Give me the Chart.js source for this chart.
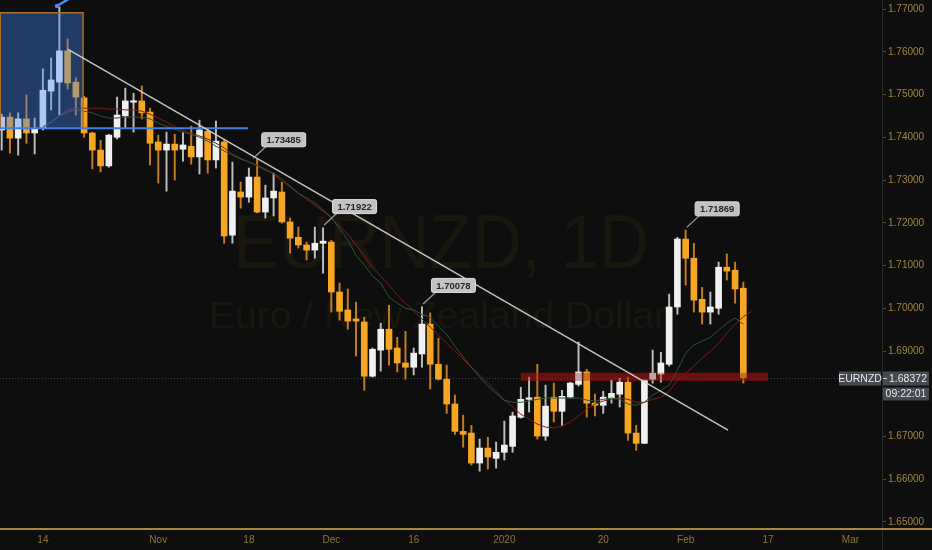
<!DOCTYPE html>
<html>
<head>
<meta charset="utf-8">
<script src="https://cdn.jsdelivr.net/npm/chart.js@4.4.1/dist/chart.umd.min.js"></script>
<style>
html,body{margin:0;padding:0;background:#0e0e0e;overflow:hidden}
#wrap{width:932px;height:550px;position:relative}
</style>
</head>
<body>
<div id="wrap"><canvas id="c" width="932" height="550"></canvas></div>
<script>
// ---- data (daily candles, index 0 = 7 Oct 2019) ----
const opens  = [1.7417,1.7447,1.7398,1.7443,1.7410,1.7421,1.7508,1.7529,1.7602,1.7529,
                1.7492,1.7410,1.7370,1.7333,1.7400,1.7450,1.7482,1.7485,1.7459,1.7389,
                1.7370,1.7384,1.7372,1.7379,1.7354,1.7414,1.7347,1.7389,1.7171,1.7272,
                1.7260,1.7307,1.7225,1.7258,1.7272,1.7202,1.7166,1.7148,1.7136,1.7152,
                1.7155,1.7038,1.6996,1.6975,1.6968,1.6841,1.6902,1.6951,1.6907,1.6872,
                1.6862,1.6893,1.6963,1.6869,1.6834,1.6776,1.6712,1.6708,1.6638,1.6673,
                1.6649,1.6663,1.6677,1.6745,1.6787,1.6792,1.6701,1.6792,1.6759,1.6792,
                1.6822,1.6851,1.6778,1.6773,1.6790,1.6799,1.6827,1.6708,1.6684,1.6834,
                1.6846,1.6869,1.7003,1.7162,1.7117,1.7021,1.6991,1.7000,1.7096,1.7089,
                1.7047];
const highs  = [1.7454,1.7457,1.7457,1.7499,1.7445,1.7560,1.7585,1.7705,1.7630,1.7539,
                1.7496,1.7412,1.7393,1.7407,1.7494,1.7515,1.7503,1.7520,1.7468,1.7405,
                1.7412,1.7407,1.7412,1.7426,1.7440,1.7419,1.7438,1.7393,1.7342,1.7295,
                1.7328,1.73485,1.7288,1.7316,1.7295,1.7211,1.7190,1.7155,1.7190,1.71922,
                1.7159,1.7059,1.7045,1.7014,1.6979,1.6907,1.6965,1.7007,1.6932,1.6946,
                1.6907,1.70078,1.6989,1.6930,1.6867,1.6797,1.6750,1.6726,1.6694,1.6698,
                1.6687,1.6736,1.6757,1.6815,1.6839,1.6869,1.6820,1.6825,1.6808,1.6827,
                1.6921,1.6857,1.6799,1.6806,1.6832,1.6836,1.6839,1.6726,1.6832,1.6902,
                1.6897,1.7033,1.7166,1.71869,1.7152,1.7049,1.7038,1.7108,1.7127,1.7108,
                1.7061];
const lows   = [1.7370,1.7363,1.7358,1.7386,1.7361,1.7417,1.7464,1.7452,1.7513,1.7452,
                1.7400,1.7326,1.7319,1.7330,1.7396,1.7421,1.7412,1.7443,1.7335,1.7293,
                1.7274,1.7300,1.7344,1.7337,1.7314,1.7316,1.7328,1.7152,1.7152,1.7234,
                1.7248,1.7223,1.7211,1.7216,1.7199,1.7129,1.7141,1.7113,1.7117,1.7082,
                1.6991,1.6972,1.6951,1.6888,1.6808,1.6839,1.6853,1.6867,1.6851,1.6834,
                1.6844,1.6862,1.6811,1.6832,1.6754,1.6705,1.6675,1.6633,1.6619,1.6624,
                1.6626,1.6645,1.6663,1.6743,1.6757,1.6694,1.6691,1.6734,1.6726,1.6790,
                1.6818,1.6745,1.6748,1.6754,1.6778,1.6769,1.6691,1.6668,1.6684,1.6825,
                1.6827,1.6865,1.6986,1.7054,1.6991,1.6963,1.6963,1.6986,1.7066,1.7012,
                1.6825];
const closes = [1.7447,1.7398,1.7443,1.7410,1.7421,1.7510,1.7534,1.7602,1.7527,1.7494,
                1.7410,1.7370,1.7333,1.7405,1.7452,1.7485,1.7485,1.7457,1.7386,1.7370,
                1.7384,1.7370,1.7382,1.7354,1.7417,1.7347,1.7391,1.7169,1.7274,1.7260,
                1.7307,1.7225,1.7258,1.7274,1.7202,1.7164,1.7148,1.7136,1.7152,1.7157,
                1.7038,1.6993,1.6970,1.6970,1.6841,1.6904,1.6951,1.6904,1.6872,1.6862,
                1.6895,1.6963,1.6869,1.6834,1.6776,1.6712,1.6705,1.6638,1.6673,1.6652,
                1.6663,1.6680,1.6748,1.6787,1.6790,1.6701,1.6771,1.6759,1.6794,1.6825,
                1.6851,1.6778,1.6773,1.6792,1.6801,1.6827,1.6708,1.6684,1.6832,1.6848,
                1.6872,1.7003,1.7162,1.7117,1.7019,1.6991,1.7003,1.7096,1.7087,1.7045,
                1.68372];
const maFast = [null,null,null,null,null,1.7424,1.7436,1.7450,1.7459,1.7464,
                1.7461,1.7457,1.7450,1.7445,1.7445,1.7447,1.7447,1.7447,1.7443,1.7433,
                1.7426,1.7419,1.7412,1.7407,1.7400,1.7391,1.7379,1.7368,1.7358,1.7349,
                1.7342,1.7333,1.7323,1.7316,1.7302,1.7286,1.7269,1.7258,1.7246,1.7230,
                1.7213,1.7187,1.7159,1.7124,1.7101,1.7075,1.7059,1.7026,1.7012,1.7000,
                1.6996,1.6986,1.6979,1.6958,1.6939,1.6911,1.6886,1.6862,1.6839,1.6818,
                1.6801,1.6785,1.6780,1.6780,1.6783,1.6787,1.6790,1.6790,1.6790,1.6790,
                1.6790,1.6785,1.6783,1.6787,1.6790,1.6787,1.6776,1.6773,1.6780,1.6797,
                1.6808,1.6820,1.6855,1.6895,1.6914,1.6923,1.6932,1.6949,1.6965,1.6977,
                1.6963];
const maSlow = [null,null,null,null,null,1.7424,1.7436,1.7450,1.7464,1.7468,
                1.7468,1.7468,1.7468,1.7466,1.7466,1.7464,1.7464,1.7461,1.7454,1.7445,
                1.7436,1.7424,1.7417,1.7410,1.7403,1.7396,1.7386,1.7375,1.7361,1.7351,
                1.7342,1.7335,1.7326,1.7314,1.7297,1.7283,1.7269,1.7255,1.7241,1.7227,
                1.7211,1.7192,1.7173,1.7148,1.7122,1.7096,1.7075,1.7054,1.7031,1.7012,
                1.6993,1.6975,1.6956,1.6937,1.6918,1.6900,1.6881,1.6862,1.6844,1.6825,
                1.6806,1.6785,1.6769,1.6752,1.6741,1.6729,1.6722,1.6720,1.6724,1.6734,
                1.6748,1.6764,1.6776,1.6783,1.6787,1.6790,1.6787,1.6780,1.6780,1.6787,
                1.6792,1.6806,1.6832,1.6848,1.6865,1.6883,1.6900,1.6918,1.6942,1.6962,
                1.6980,1.6993];
const xTickIdx    = [5, 19, 30, 40, 50, 61, 73, 83, 93, 103];
const xTickLabels = ['14','Nov','18','Dec','16','2020','20','Feb','17','Mar'];
const yTickValues = [1.65,1.66,1.67,1.69,1.70,1.71,1.72,1.73,1.74,1.75,1.76,1.77];
const symbolName = 'EURNZD';
const lastPrice = 1.68372;
const countdown = '09:22:01';
const calloutIdx   = [30.4, 39, 51, 83];
const calloutPrice = [1.73485, 1.71922, 1.70078, 1.71869];
const trendLine = [[8, 1.7606], [88.15, 1.6715]];
const blueLevel = [[-0.3, 1.7421], [29.9, 1.7421]];
const blueBox   = [[-0.3, 1.7691], [9.87, 1.7421]];
const blueRay   = [[6.71, 1.7707], [8.5, 1.7728]];
const redZone   = [[63, 1.6849], [93, 1.6830]];
const watermark1 = 'EURNZD, 1D';
const watermark2 = 'Euro / New Zealand Dollar';

// ---- styles ----
const BG = '#0e0e0e';
const UP = '#f0f0f0', DN = '#f6a623', UPW = '#bdbdbd', DNW = '#c47d1e';
const AXIS_FONT = '"Liberation Sans Narrow","Liberation Sans",sans-serif';
const isUp = i => closes[i] >= opens[i];

const overlay = {
  id: 'overlay',
  beforeDraw(chart) {
    const c = chart.ctx, a = chart.chartArea;
    c.save();
    c.fillStyle = BG;
    c.fillRect(0, 0, chart.width, chart.height);
    c.fillStyle = 'rgba(125,95,25,0.115)';
    c.textAlign = 'center';
    c.textBaseline = 'alphabetic';
    const cx = (a.left + a.right) / 2;
    c.font = '76px "Liberation Sans", sans-serif';
    let w = c.measureText(watermark1).width;
    c.save(); c.translate(cx, 268); c.scale(416 / w, 1); c.fillText(watermark1, 0, 0); c.restore();
    c.font = '37px "Liberation Sans", sans-serif';
    w = c.measureText(watermark2).width;
    c.save(); c.translate(cx - 3, 328); c.scale(458 / w, 1); c.fillText(watermark2, 0, 0); c.restore();
    c.restore();
  },
  beforeDatasetsDraw(chart) {
    const c = chart.ctx, a = chart.chartArea, xs = chart.scales.x, ys = chart.scales.y;
    c.save();
    const zx1 = xs.getPixelForValue(redZone[0][0]), zx2 = xs.getPixelForValue(redZone[1][0]);
    const zy1 = ys.getPixelForValue(redZone[0][1]), zy2 = ys.getPixelForValue(redZone[1][1]);
    c.fillStyle = '#650e0e';
    c.fillRect(zx1, zy1, zx2 - zx1, zy2 - zy1);
    const py = Math.round(ys.getPixelForValue(lastPrice)) + 0.5;
    c.strokeStyle = '#474747';
    c.lineWidth = 1;
    c.setLineDash([1, 2]);
    c.beginPath(); c.moveTo(a.left, py); c.lineTo(a.right, py); c.stroke();
    c.restore();
  },
  afterDatasetsDraw(chart) {
    const c = chart.ctx, a = chart.chartArea, xs = chart.scales.x, ys = chart.scales.y;
    const X = v => xs.getPixelForValue(v), Y = v => ys.getPixelForValue(v);
    c.save();
    c.beginPath(); c.rect(a.left, a.top, a.right - a.left, a.bottom - a.top); c.clip();
    c.fillStyle = 'rgba(120,15,15,0.35)';
    c.fillRect(X(redZone[0][0]), Y(redZone[0][1]), X(redZone[1][0]) - X(redZone[0][0]), Y(redZone[1][1]) - Y(redZone[0][1]));
    const bx1 = X(blueBox[0][0]), by1 = Y(blueBox[0][1]), bx2 = X(blueBox[1][0]), by2 = Y(blueBox[1][1]);
    c.fillStyle = 'rgba(66,133,244,0.38)';
    c.fillRect(bx1, by1, bx2 - bx1, by2 - by1);
    c.strokeStyle = '#a86f2e';
    c.lineWidth = 1.5;
    c.beginPath(); c.moveTo(bx1 + 1, by2); c.lineTo(bx1 + 1, by1); c.lineTo(bx2, by1); c.lineTo(bx2, by2); c.stroke();
    c.strokeStyle = '#3f7fe0';
    c.lineWidth = 2;
    c.beginPath(); c.moveTo(X(blueLevel[0][0]), Y(blueLevel[0][1])); c.lineTo(X(blueLevel[1][0]), Y(blueLevel[1][1])); c.stroke();
    c.strokeStyle = '#4a8ef0';
    c.lineWidth = 2.5;
    c.beginPath(); c.moveTo(X(blueRay[0][0]), Y(blueRay[0][1])); c.lineTo(X(blueRay[1][0]), Y(blueRay[1][1])); c.stroke();
    c.fillStyle = '#4a8ef0';
    c.beginPath(); c.arc(X(blueRay[0][0]), Y(blueRay[0][1]), 2.2, 0, Math.PI * 2); c.fill();
    c.strokeStyle = 'rgba(215,215,215,0.9)';
    c.lineWidth = 1.5;
    c.beginPath(); c.moveTo(X(trendLine[0][0]), Y(trendLine[0][1])); c.lineTo(X(trendLine[1][0]), Y(trendLine[1][1])); c.stroke();
    calloutIdx.forEach((idx, k) => {
      const px = X(idx), py = Y(calloutPrice[k]);
      const bl = px + 9, bb = py - 13, bw = 44, bh = 14;
      c.strokeStyle = '#9a9a9a';
      c.lineWidth = 1.3;
      c.beginPath(); c.moveTo(px, py); c.lineTo(px + 14, bb); c.stroke();
      c.fillStyle = '#111';
      c.beginPath(); c.arc(px, py, 1.6, 0, Math.PI * 2); c.fill();
      c.fillStyle = '#c2c2c2';
      c.strokeStyle = '#dedede';
      c.lineWidth = 1;
      c.beginPath();
      if (c.roundRect) c.roundRect(bl + 0.5, bb - bh + 0.5, bw, bh, 2); else c.rect(bl + 0.5, bb - bh + 0.5, bw, bh);
      c.fill(); c.stroke();
      c.fillStyle = '#262626';
      c.font = 'bold 9.5px "Liberation Sans", sans-serif';
      c.textAlign = 'center'; c.textBaseline = 'middle';
      c.fillText(calloutPrice[k].toFixed(5), bl + bw / 2 + 0.5, bb - bh / 2 + 1);
    });
    c.restore();
  },
  afterDraw(chart) {
    const c = chart.ctx, a = chart.chartArea, ys = chart.scales.y;
    c.save();
    c.fillStyle = '#2a2a2a';
    c.fillRect(a.right, 0, 1, chart.height);
    c.fillStyle = '#a98a3c';
    c.fillRect(0, a.bottom + 1, chart.width, 2);
    const py = Math.round(ys.getPixelForValue(lastPrice)) + 0.5;
    c.fillStyle = '#464951';
    c.fillRect(a.right - 43, py - 7, 42, 14);
    c.fillRect(a.right + 1, py - 7, 46, 14);
    c.fillRect(a.right + 1, py + 9, 46, 13);
    c.fillStyle = '#cfcfcf';
    c.fillRect(a.right + 1, py - 0.5, 4, 1);
    c.fillStyle = '#e8e8e8';
    c.font = '10.5px "Liberation Sans", sans-serif';
    c.textBaseline = 'middle';
    c.textAlign = 'center';
    c.fillText(symbolName, a.right - 22, py + 0.5);
    c.fillText(lastPrice.toFixed(5), a.right + 26, py + 0.5);
    c.fillText(countdown, a.right + 24, py + 16);
    c.restore();
  }
};

new Chart(document.getElementById('c'), {
  type: 'bar',
  data: {
    datasets: [
      { type: 'line', label: 'MA fast', data: maFast.map((v, i) => ({ x: i, y: v })),
        borderColor: '#2f5534', borderWidth: 1, pointRadius: 0, tension: 0, order: 0 },
      { type: 'line', label: 'MA slow', data: maSlow.map((v, i) => ({ x: i, y: v })),
        borderColor: '#7e1c1c', borderWidth: 1, pointRadius: 0, tension: 0, order: 1 },
      { type: 'bar', label: 'bodies', data: opens.map((o, i) => ({ x: i, y: [o, closes[i]] })),
        backgroundColor: opens.map((o, i) => isUp(i) ? UP : DN),
        barThickness: 6, minBarLength: 1.5, grouped: false, order: 2 },
      { type: 'bar', label: 'wicks', data: lows.map((l, i) => ({ x: i, y: [l, highs[i]] })),
        backgroundColor: lows.map((l, i) => isUp(i) ? UPW : DNW),
        barThickness: 1.3, grouped: false, order: 3 }
    ]
  },
  options: {
    responsive: false,
    animation: false,
    events: [],
    layout: { padding: 0 },
    plugins: { legend: { display: false }, tooltip: { enabled: false } },
    scales: {
      x: {
        type: 'linear', min: -0.206, max: 106.83, offset: false,
        grid: { display: false, drawTicks: false, offset: false },
        border: { display: false },
        ticks: { autoSkip: false, maxRotation: 0, padding: 7, color: '#8d7538',
                 font: { family: AXIS_FONT, size: 10 },
                 callback: v => { const k = xTickIdx.indexOf(v); return k >= 0 ? xTickLabels[k] : ''; } },
        afterBuildTicks: s => { s.ticks = xTickIdx.map(v => ({ value: v })); },
        afterFit: s => { s.height = 23; s.paddingLeft = 0; s.paddingRight = 0; }
      },
      y: {
        type: 'linear', position: 'right', min: 1.64883, max: 1.77211,
        grid: { display: true, drawOnChartArea: false, drawTicks: true, tickLength: 4, color: '#4a4a4a' },
        border: { display: false },
        ticks: { padding: 2, color: '#a3853d', font: { family: AXIS_FONT, size: 10 },
                 callback: v => Number(v).toFixed(5) },
        afterBuildTicks: s => { s.ticks = yTickValues.map(v => ({ value: v })); },
        afterFit: s => { s.width = 50; s.paddingTop = 0; s.paddingBottom = 0; }
      }
    }
  },
  plugins: [overlay]
});
</script>
</body>
</html>
